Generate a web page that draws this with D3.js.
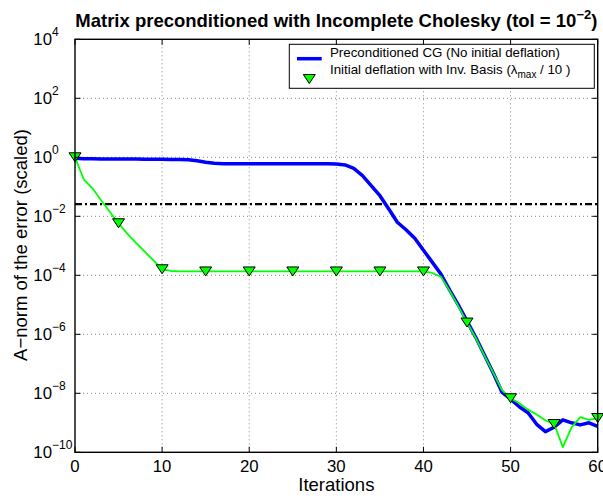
<!DOCTYPE html>
<html><head><meta charset="utf-8">
<script src="https://cdn.jsdelivr.net/npm/d3@7/dist/d3.min.js"></script>
<style>body{margin:0;background:#fff}svg{display:block}text{font-family:"Liberation Sans",Arial,Helvetica,sans-serif}</style>
</head><body>
<svg id="chart" width="603" height="498"></svg>
<script>
const iterations = [0,1,2,3,4,5,6,7,8,9,10,11,12,13,14,15,16,17,18,19,20,21,22,23,24,25,26,27,28,29,30,
  31,32,33,34,35,36,37,38,39,40,41,42,43,44,45,46,47,48,49,50,51,52,53,54,55,56,57,58,59,60];
const pcgValues = [0.93,0.90,0.89,0.88,0.88,0.87,0.87,0.87,0.86,0.86,0.86,0.85,0.85,0.82,0.76,0.68,0.63,0.61,0.60,0.60,0.60,
  0.60,0.60,0.60,0.60,0.60,0.60,0.60,0.60,0.60,0.59,
  0.55,0.42,0.24,0.11,0.05,0.018,6.3e-3,3.5e-3,1.8e-3,7.1e-4,
  2.8e-4,1.1e-4,3.2e-5,1.0e-5,2.8e-6,7.9e-7,2.0e-7,5.0e-8,1.1e-8,6.3e-9,
  3.5e-9,2.2e-9,8.9e-10,5.0e-10,7.1e-10,1.26e-9,1.0e-9,8.5e-10,1.0e-9,7.6e-10];
const deflValues = [1.0,0.18,0.089,0.035,0.014,5.8e-3,2.6e-3,1.26e-3,6.3e-4,3.2e-4,1.6e-4,
  1.4e-4,1.35e-4,1.35e-4,1.35e-4,1.35e-4,1.35e-4,1.35e-4,1.35e-4,1.35e-4,1.35e-4,
  1.35e-4,1.35e-4,1.35e-4,1.35e-4,1.35e-4,1.35e-4,1.35e-4,1.35e-4,1.35e-4,1.35e-4,
  1.35e-4,1.35e-4,1.35e-4,1.35e-4,1.35e-4,1.35e-4,1.35e-4,1.35e-4,1.35e-4,1.35e-4,
  1.2e-4,9.0e-5,3.0e-5,9.0e-6,2.5e-6,7.5e-7,1.9e-7,5.0e-8,1.3e-8,6.8e-9,
  4.6e-9,2.8e-9,1.9e-9,1.2e-9,9.1e-10,1.5e-10,7.0e-10,1.55e-9,1.26e-9,1.45e-9];
const markerIterations = [0,5,10,15,20,25,30,35,40,45,50,55,60];
const tolerance = 0.026;
const xTicks = [0,10,20,30,40,50,60];
const yTickExponents = [-10,-8,-6,-4,-2,0,2,4];
const titleText = "Matrix preconditioned with Incomplete Cholesky (tol = 10";
const titleExp = "\u22122";
const legendLabels = ["Preconditioned CG (No initial deflation)", "Initial deflation with Inv. Basis ("];

const svg = d3.select("#chart");
const L = 75, R = 597.7, T = 39.3, B = 452.3;
const x = d3.scaleLinear().domain([0,60]).range([L,R]);
const y = d3.scaleLog().domain([1e-10,1e4]).range([B,T]);

// grid
const grid = svg.append("g").attr("stroke","#8a8a8a").attr("stroke-width",1).attr("stroke-dasharray","1,3");
xTicks.filter(t=>t>0&&t<60).forEach(t=>{
  grid.append("line").attr("x1",x(t)).attr("x2",x(t)).attr("y1",T).attr("y2",B);
});
yTickExponents.filter(e=>e>-10&&e<4).forEach(e=>{
  grid.append("line").attr("x1",L).attr("x2",R).attr("y1",y(Math.pow(10,e))).attr("y2",y(Math.pow(10,e)));
});

// tolerance dash-dot
svg.append("line").attr("x1",L).attr("x2",R).attr("y1",y(tolerance)).attr("y2",y(tolerance))
  .attr("stroke","#000").attr("stroke-width",2.2).attr("stroke-dasharray","7,3,2,3");

const line = d3.line().x(d=>x(d[0])).y(d=>y(d[1]));
svg.append("path").datum(iterations.map((it,i)=>[it,pcgValues[i]]))
  .attr("d",line).attr("fill","none").attr("stroke","#0000ff").attr("stroke-width",3.5).attr("stroke-linejoin","round");
svg.append("path").datum(iterations.map((it,i)=>[it,deflValues[i]]))
  .attr("d",line).attr("fill","none").attr("stroke","#00ff00").attr("stroke-width",1.8).attr("stroke-linejoin","round");

const tri = (cx,cy)=>`M${cx-6},${cy-4.5}L${cx+6},${cy-4.5}L${cx},${cy+4.5}Z`;
svg.append("g").selectAll("path").data(markerIterations).join("path")
  .attr("d",it=>tri(x(it), y(deflValues[iterations.indexOf(it)])))
  .attr("fill","#00ff00").attr("stroke","#000").attr("stroke-width",1);

// axes box + ticks
const ax = svg.append("g").attr("stroke","#000");
ax.append("rect").attr("x",L).attr("y",T).attr("width",R-L).attr("height",B-T).attr("fill","none").attr("stroke-width",1.4);
const tl = 5.5;
xTicks.forEach(t=>{
  ax.append("line").attr("x1",x(t)).attr("x2",x(t)).attr("y1",B).attr("y2",B-tl);
  ax.append("line").attr("x1",x(t)).attr("x2",x(t)).attr("y1",T).attr("y2",T+tl);
});
yTickExponents.forEach(e=>{
  const yy = y(Math.pow(10,e));
  ax.append("line").attr("x1",L).attr("x2",L+tl).attr("y1",yy).attr("y2",yy);
  ax.append("line").attr("x1",R).attr("x2",R-tl).attr("y1",yy).attr("y2",yy);
});

// tick labels
svg.append("g").selectAll("text").data(xTicks).join("text")
  .attr("x",t=>x(t)).attr("y",B+19.5).attr("text-anchor","middle").attr("font-size",16.8).text(t=>t);
yTickExponents.forEach(e=>{
  const yy = y(Math.pow(10,e));
  const t = svg.append("text").attr("x",33.3).attr("y",yy+6).attr("font-size",16.8);
  t.append("tspan").text("10");
  t.append("tspan").attr("dy",-9).attr("font-size",12).text(e<0?"\u2212"+(-e):String(e));
});

// axis labels
svg.append("text").attr("x",(L+R)/2).attr("y",491).attr("text-anchor","middle").attr("font-size",18.5).text("Iterations");
svg.append("text").attr("transform","translate(26.5,245) rotate(-90)").attr("text-anchor","middle").attr("font-size",18.5)
  .text("A\u2212norm of the error (scaled)");

// title
const tt = svg.append("text").attr("x",(L+R)/2).attr("y",27).attr("text-anchor","middle")
  .attr("font-size",18.5).attr("font-weight","bold");
tt.append("tspan").text(titleText);
tt.append("tspan").attr("dy",-8).attr("font-size",13).text(titleExp);
tt.append("tspan").attr("dy",8).text(")");

// legend
const lg = svg.append("g");
lg.append("rect").attr("x",289.3).attr("y",44.3).attr("width",305).attr("height",44).attr("fill","#fff").attr("stroke","#000").attr("stroke-width",1);
lg.append("line").attr("x1",297).attr("x2",321.7).attr("y1",58.7).attr("y2",58.7).attr("stroke","#0000ff").attr("stroke-width",3.5);
lg.append("path").attr("d",tri(309.3,79)).attr("fill","#00ff00").attr("stroke","#000").attr("stroke-width",1);
lg.append("text").attr("x",330).attr("y",57).attr("font-size",13.3).text(legendLabels[0]);
const l2 = lg.append("text").attr("x",330).attr("y",74).attr("font-size",13.3);
l2.append("tspan").text(legendLabels[1]);
l2.append("tspan").text("\u03bb");
l2.append("tspan").attr("dy",4).attr("font-size",10).text("max");
l2.append("tspan").attr("dy",-4).text(" / 10 )");
</script>
</body></html>
